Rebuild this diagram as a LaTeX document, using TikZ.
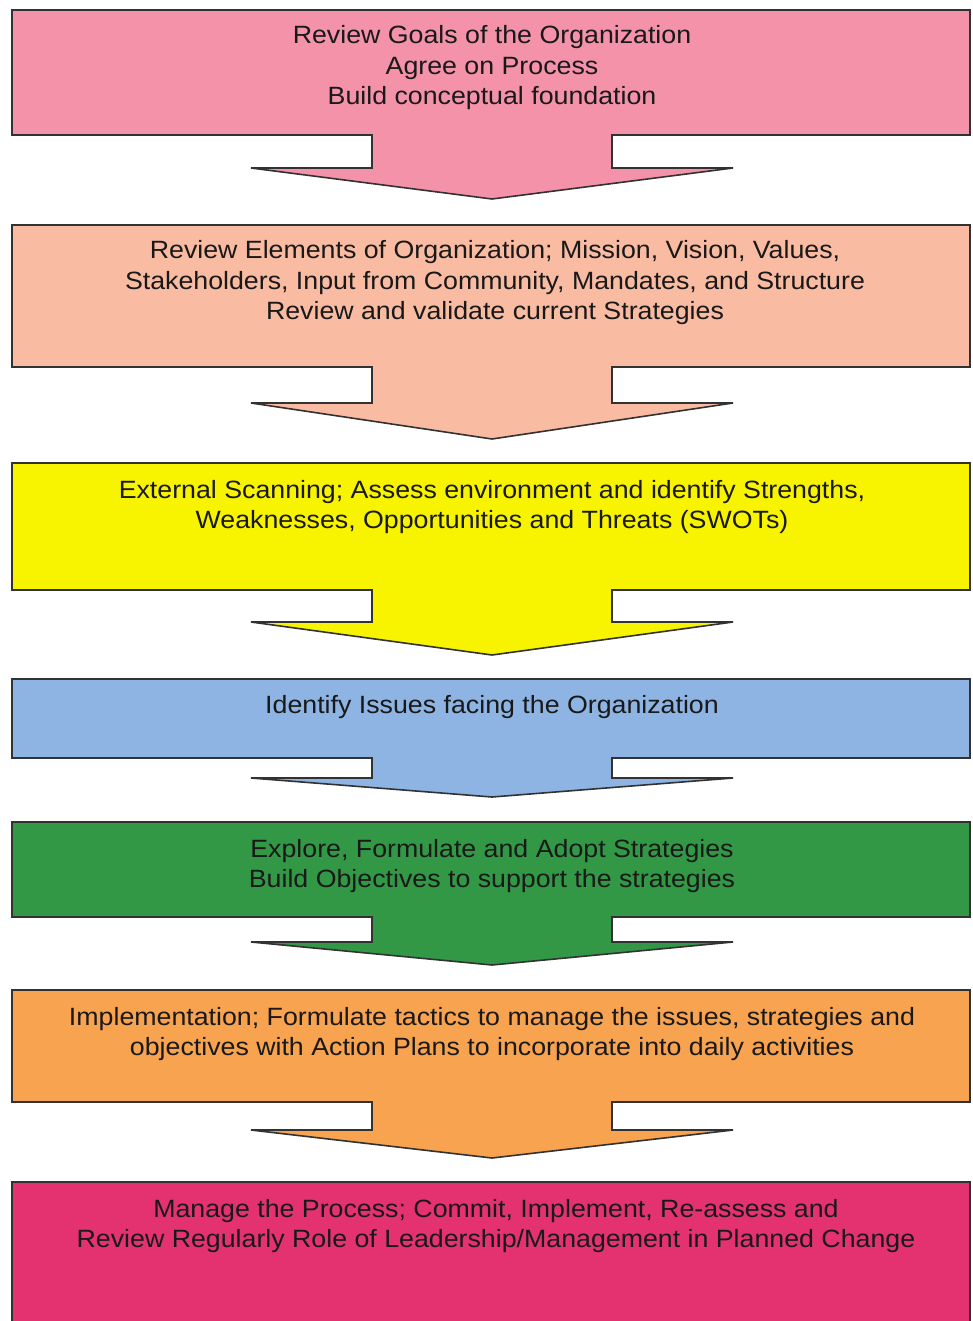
\documentclass[tikz,border=0pt]{standalone}
\usepackage{fontspec}
\setmainfont{Liberation Sans}[FakeStretch=1.07]
\definecolor{cA}{RGB}{244,146,170}
\definecolor{cB}{RGB}{249,187,162}
\definecolor{cC}{RGB}{248,244,0}
\definecolor{cD}{RGB}{142,180,227}
\definecolor{cE}{RGB}{50,152,70}
\definecolor{cF}{RGB}{248,163,80}
\definecolor{cG}{RGB}{228,50,112}
\definecolor{edge}{RGB}{50,50,50}
\definecolor{ink}{RGB}{25,25,25}
\newcommand\stagebox[5]{%
  \filldraw[stageline,fill=#5] (12,#1) -- (970,#1) -- (970,#2) -- (612,#2) -- (612,#3) -- (733,#3)
    -- (492,#4) -- (251,#3) -- (372,#3) -- (372,#2) -- (12,#2) -- cycle;}
\begin{document}
\begin{tikzpicture}[x=1pt,y=-1pt,
  stageline/.style={draw=edge,line width=1.6pt,line join=miter},
  stagetext/.style={align=center,text=ink,inner sep=0pt,font=\fontsize{25}{30.5}\selectfont}]
\clip (0,0) rectangle (972,1321);
\fill[white] (0,0) rectangle (972,1321);
\stagebox{10}{135}{168}{199}{cA}
\stagebox{225}{367}{403}{439}{cB}
\stagebox{463}{590}{622}{655}{cC}
\stagebox{679}{758}{778}{797}{cD}
\stagebox{822}{917}{942}{965}{cE}
\stagebox{990}{1102}{1130}{1158}{cF}
\filldraw[stageline,fill=cG] (12,1182) -- (970,1182) -- (970,1340) -- (12,1340) -- cycle;
\node[stagetext] (s1) at (492,68) {Review Goals of the Organization\\Agree on Process\\Build conceptual foundation};
\node[stagetext] (s2) at (495,283) {Review Elements of Organization; Mission, Vision, Values,\\Stakeholders, Input from Community, Mandates, and Structure\\Review and validate current Strategies};
\node[stagetext] (s3) at (492,507) {External Scanning; Assess environment and identify Strengths,\\Weaknesses, Opportunities and Threats (SWOTs)};
\node[stagetext] (s4) at (492,707) {Identify Issues facing the Organization};
\node[stagetext] (s5) at (492,866) {Explore, Formulate and Adopt Strategies\\Build Objectives to support the strategies};
\node[stagetext] (s6) at (492,1034) {Implementation; Formulate tactics to manage the issues, strategies and\\objectives with Action Plans to incorporate into daily activities};
\node[stagetext] (s7) at (496,1226) {Manage the Process; Commit, Implement, Re-assess and\\Review Regularly Role of Leadership/Management in Planned Change};
\end{tikzpicture}
\end{document}
